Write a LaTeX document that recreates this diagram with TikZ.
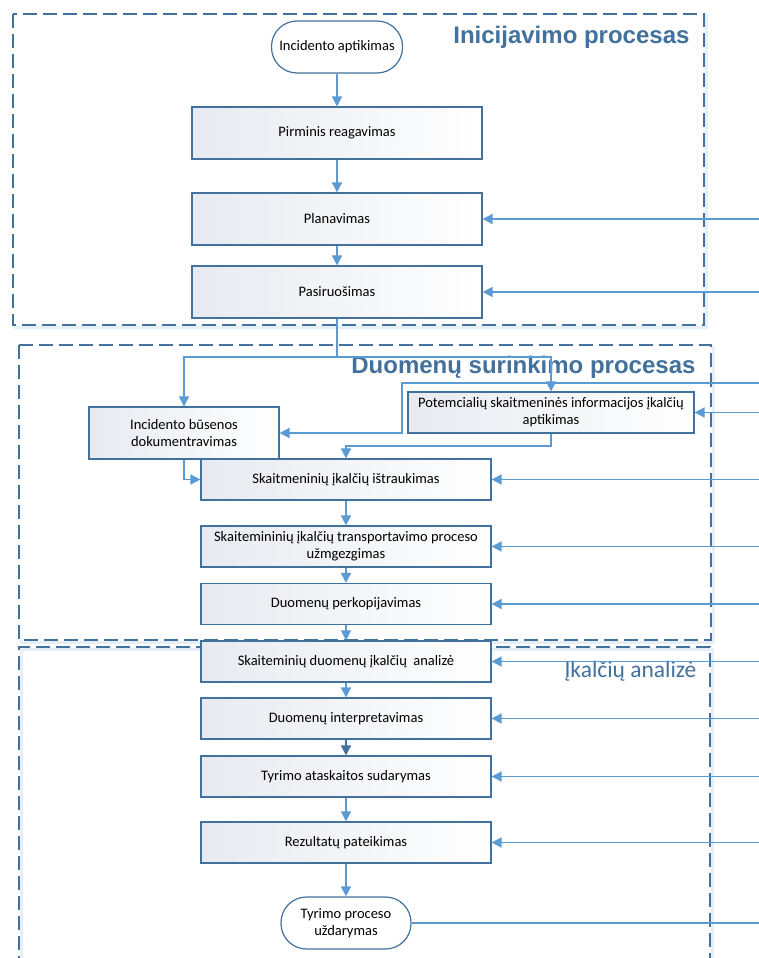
\documentclass[tikz,border=0pt]{standalone}
\usepackage{fontspec}
\setmainfont{Carlito}
\newfontfamily\headfont{Liberation Sans}
\usetikzlibrary{arrows.meta}
\definecolor{frameblue}{HTML}{41719C}
\definecolor{linkblue}{HTML}{5B9BD5}
\definecolor{boxedge}{HTML}{41719C}
\definecolor{boxshade}{HTML}{E7EAF0}
\definecolor{glow}{HTML}{E6EEF7}
\begin{document}
\begin{tikzpicture}[x=1pt,y=-1pt,
  every node/.style={font=\fontsize{14.5}{17}\selectfont, text=black},
  procbox/.style={draw=boxedge, line width=1.2pt, left color=boxshade, right color=white,
    minimum width=290pt, minimum height=41pt, inner sep=0pt, align=center},
  tallbox/.style={procbox, minimum height=52pt},
  termbox/.style={draw=boxedge, line width=1.2pt, fill=white, rounded corners=25.5pt,
    minimum width=131pt, minimum height=52pt, inner sep=0pt, align=center},
  link/.style={draw=linkblue, line width=1.7pt},
  arr/.style={link, -{Triangle[width=10pt,length=10pt]}},
  darkarr/.style={draw=boxedge, line width=1.7pt, -{Triangle[width=10pt,length=10pt]}},
  frame/.style={draw=frameblue, line width=1.4pt, dash pattern=on 14pt off 6pt},
  halo/.style={draw=glow, line width=3pt},
  headtitle/.style={anchor=east, text=frameblue, font=\headfont\bfseries\fontsize{24}{28}\selectfont},
  subtitle/.style={anchor=east, text=frameblue, font=\fontsize{23.5}{26}\selectfont}
]
\useasboundingbox (0,0) rectangle (759,958);

% process frames with a soft glow
\draw[halo] (15,16) rectangle (706,327);
\draw[halo] (21,347) rectangle (713,642);
\draw[halo] (21,970) -- (21,649) -- (712,649) -- (712,970);
\draw[frame, fill=white] (13,14) rectangle (704,325);
\draw[frame, fill=white] (19,345) rectangle (711,640);
\draw[frame] (19,970) -- (19,647) -- (710,647) -- (710,970);

\node[headtitle] (title1) at (693,37) {Inicijavimo procesas};
\node[headtitle] (title2) at (699,367) {Duomenų surinkimo procesas};
\node[subtitle] (title3) at (700,671) {Įkalčių analizė};

% steps
\node[termbox] (start) at (337,47) {Incidento aptikimas};
\node[tallbox] (react) at (337,133) {Pirminis reagavimas};
\node[tallbox] (plan) at (337,219) {Planavimas};
\node[tallbox] (prep) at (337,292) {Pasiruošimas};
\node[procbox, minimum width=190pt, minimum height=52pt] (state) at (184,433) {Incidento būsenos\\dokumentravimas};
\node[procbox, minimum width=286pt] (find) at (551,412.5) {Potemcialių skaitmeninės informacijos įkalčių\\aptikimas};
\node[procbox] (extract) at (346,479.5) {Skaitmeninių įkalčių ištraukimas};
\node[procbox] (transport) at (346,546.5) {Skaitemininių įkalčių transportavimo proceso\\užmgezgimas};
\node[procbox] (copy) at (346,604) {Duomenų perkopijavimas};
\node[procbox] (analyse) at (346,661.5) {Skaiteminių duomenų įkalčių\ \ analizė};
\node[procbox] (interp) at (346,718.5) {Duomenų interpretavimas};
\node[procbox] (report) at (346,776.5) {Tyrimo ataskaitos sudarymas};
\node[procbox] (result) at (346,842.5) {Rezultatų pateikimas};
\node[termbox, minimum width=130pt] (close) at (346,923) {Tyrimo proceso\\uždarymas};

% main flow
\draw[arr] (start) -- (react);
\draw[arr] (react) -- (plan);
\draw[arr] (plan) -- (prep);
\coordinate (split) at (337,357);
\draw[link] (prep.south) -- (split);
\draw[arr] (split) -| (state.north);
\draw[arr] (split) -| (find.north);
\coordinate (findout) at (551,446);
\draw[arr] (find.south) -- (findout) -| (extract.north);
\draw[arr] (state.south) |- (extract.west);
\draw[arr] (extract) -- (transport);
\draw[arr] (transport) -- (copy);
\draw[arr] (copy) -- (analyse);
\draw[arr] (analyse) -- (interp);
\draw[darkarr] (interp) -- (report);
\draw[arr] (report) -- (result);
\draw[arr] (result) -- (close);

% inputs entering from the right
\coordinate (inPlan) at (759,219);
\coordinate (inPrep) at (759,292);
\coordinate (inState) at (759,383);
\coordinate (bendState) at (402,383);
\coordinate (inFind) at (759,412.5);
\coordinate (inExtract) at (759,479.5);
\coordinate (inTransport) at (759,546.5);
\coordinate (inCopy) at (759,604);
\coordinate (inAnalyse) at (759,661.5);
\coordinate (inInterp) at (759,718.5);
\coordinate (inReport) at (759,776.5);
\coordinate (inResult) at (759,842.5);
\coordinate (outClose) at (759,923);
\draw[arr] (inPlan) -- (plan.east);
\draw[arr] (inPrep) -- (prep.east);
\draw[arr] (inState) -- (bendState) |- (state.east);
\draw[arr] (inFind) -- (find.east);
\draw[arr] (inExtract) -- (extract.east);
\draw[arr] (inTransport) -- (transport.east);
\draw[arr] (inCopy) -- (copy.east);
\draw[arr] (inAnalyse) -- (analyse.east);
\draw[arr] (inInterp) -- (interp.east);
\draw[arr] (inReport) -- (report.east);
\draw[arr] (inResult) -- (result.east);
\draw[link] (close.east) -- (outClose);
\end{tikzpicture}
\end{document}
